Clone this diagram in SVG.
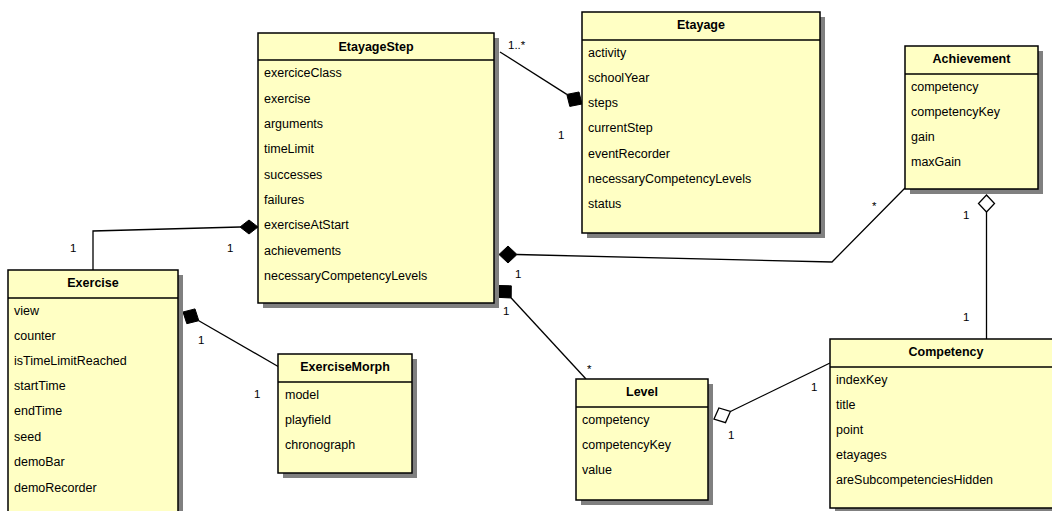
<svg xmlns="http://www.w3.org/2000/svg" width="1052" height="511" viewBox="0 0 1052 511">
<style>
.sh{fill:#808080}
.bx{fill:#ffffc4;stroke:#000;stroke-width:1.5}
.sep{stroke:#000;stroke-width:1.5}
.t{font-family:"Liberation Sans",Arial,sans-serif;font-size:12.5px;font-weight:bold;text-anchor:middle;fill:#000}
.a{font-family:"Liberation Sans",Arial,sans-serif;font-size:12.5px;fill:#000}
.l{font-family:"Liberation Sans",Arial,sans-serif;font-size:11.5px;fill:#000}
.c{fill:none;stroke:#000;stroke-width:1.3}
.fd{fill:#000;stroke:#000;stroke-width:1}
.hd{fill:#fff;stroke:#000;stroke-width:1.3}
</style>
<rect width="1052" height="511" fill="#fff"/>
<g id="connectors">
  <polyline class="c" points="566.8,94.4 500,52"/>
  <polygon class="fd" points="582,104 579,92 566.8,94.4 569.8,106.4"/>
  <polyline class="c" points="240,227 93,231 93,270"/>
  <polygon class="fd" points="258,227 249,220 240,227 249,234"/>
  <polyline class="c" points="517,254.5 832,262 905,188"/>
  <polygon class="fd" points="499,254.5 508,246 517,254.5 508,263"/>
  <polyline class="c" points="511.2,298 586,379"/>
  <polygon class="fd" points="499,285.5 511.3,285.8 511.2,298 498.9,297.4"/>
  <polyline class="c" points="198.8,320.7 279,367"/>
  <polygon class="fd" points="183,312 195,308.9 198.8,320.7 186.8,323.7"/>
  <polyline class="c" points="730.4,411.5 830,363"/>
  <polygon class="hd" points="714,419 718.9,408 730.4,411.5 725.5,422.6"/>
  <polyline class="c" points="986.5,212 986.5,339"/>
  <polygon class="hd" points="986.5,195 994.5,203.5 986.5,212 978.5,203.5"/>
  <text class="l" x="508" y="49">1..*</text>
  <text class="l" x="558" y="139">1</text>
  <text class="l" x="70" y="252">1</text>
  <text class="l" x="227" y="252">1</text>
  <text class="l" x="198" y="344">1</text>
  <text class="l" x="254" y="398">1</text>
  <text class="l" x="515" y="278">1</text>
  <text class="l" x="503" y="315">1</text>
  <text class="l" x="587" y="373" font-size="9">*</text>
  <text class="l" x="872" y="210" font-size="9">*</text>
  <text class="l" x="963" y="219">1</text>
  <text class="l" x="963" y="321">1</text>
  <text class="l" x="811" y="391">1</text>
  <text class="l" x="728" y="439">1</text>
</g>
<g id="EtayageStep">
  <rect class="sh" x="263" y="38" width="236" height="270"/>
  <rect class="bx" x="258" y="33" width="236" height="270"/>
  <line class="sep" x1="258" y1="60" x2="494" y2="60"/>
  <text class="t" x="376" y="50.5">EtayageStep</text>
  <text class="a" x="264" y="77">exerciceClass</text>
  <text class="a" x="264" y="102.5">exercise</text>
  <text class="a" x="264" y="128">arguments</text>
  <text class="a" x="264" y="153">timeLimit</text>
  <text class="a" x="264" y="178.5">successes</text>
  <text class="a" x="264" y="204">failures</text>
  <text class="a" x="264" y="229">exerciseAtStart</text>
  <text class="a" x="264" y="254.5">achievements</text>
  <text class="a" x="264" y="280">necessaryCompetencyLevels</text>
</g>
<g id="Etayage">
  <rect class="sh" x="587" y="17" width="238" height="221"/>
  <rect class="bx" x="582" y="12" width="238" height="221"/>
  <line class="sep" x1="582" y1="40" x2="820" y2="40"/>
  <text class="t" x="701" y="28.5">Etayage</text>
  <text class="a" x="588" y="56.5">activity</text>
  <text class="a" x="588" y="81.5">schoolYear</text>
  <text class="a" x="588" y="107">steps</text>
  <text class="a" x="588" y="132">currentStep</text>
  <text class="a" x="588" y="157.5">eventRecorder</text>
  <text class="a" x="588" y="183">necessaryCompetencyLevels</text>
  <text class="a" x="588" y="208">status</text>
</g>
<g id="Achievement">
  <rect class="sh" x="910" y="51" width="133" height="143"/>
  <rect class="bx" x="905" y="46" width="133" height="143"/>
  <line class="sep" x1="905" y1="74" x2="1038" y2="74"/>
  <text class="t" x="971.5" y="62.5">Achievement</text>
  <text class="a" x="911" y="90.5">competency</text>
  <text class="a" x="911" y="115.5">competencyKey</text>
  <text class="a" x="911" y="140.5">gain</text>
  <text class="a" x="911" y="166">maxGain</text>
</g>
<g id="Exercise">
  <rect class="sh" x="13" y="275" width="170" height="250"/>
  <rect class="bx" x="8" y="270" width="170" height="250"/>
  <line class="sep" x1="8" y1="298" x2="178" y2="298"/>
  <text class="t" x="93" y="286.5">Exercise</text>
  <text class="a" x="14" y="314.5">view</text>
  <text class="a" x="14" y="339.5">counter</text>
  <text class="a" x="14" y="364.5">isTimeLimitReached</text>
  <text class="a" x="14" y="389.5">startTime</text>
  <text class="a" x="14" y="414.5">endTime</text>
  <text class="a" x="14" y="440.5">seed</text>
  <text class="a" x="14" y="465.5">demoBar</text>
  <text class="a" x="14" y="491.5">demoRecorder</text>
</g>
<g id="ExerciseMorph">
  <rect class="sh" x="283" y="359" width="134" height="119"/>
  <rect class="bx" x="278" y="354" width="134" height="119"/>
  <line class="sep" x1="278" y1="382" x2="412" y2="382"/>
  <text class="t" x="345" y="370.5">ExerciseMorph</text>
  <text class="a" x="285" y="398.5">model</text>
  <text class="a" x="285" y="423.5">playfield</text>
  <text class="a" x="285" y="448.5">chronograph</text>
</g>
<g id="Level">
  <rect class="sh" x="581" y="384" width="132" height="121"/>
  <rect class="bx" x="576" y="379" width="132" height="121"/>
  <line class="sep" x1="576" y1="407" x2="708" y2="407"/>
  <text class="t" x="642" y="395.5">Level</text>
  <text class="a" x="582" y="423.5">competency</text>
  <text class="a" x="582" y="448.5">competencyKey</text>
  <text class="a" x="582" y="473.5">value</text>
</g>
<g id="Competency">
  <rect class="sh" x="835" y="344" width="230" height="169"/>
  <rect class="bx" x="830" y="339" width="230" height="169"/>
  <line class="sep" x1="830" y1="367" x2="1060" y2="367"/>
  <text class="t" x="946" y="355.5">Competency</text>
  <text class="a" x="836" y="383.5">indexKey</text>
  <text class="a" x="836" y="408.5">title</text>
  <text class="a" x="836" y="433.5">point</text>
  <text class="a" x="836" y="458.5">etayages</text>
  <text class="a" x="836" y="483.5">areSubcompetenciesHidden</text>
</g>
</svg>
